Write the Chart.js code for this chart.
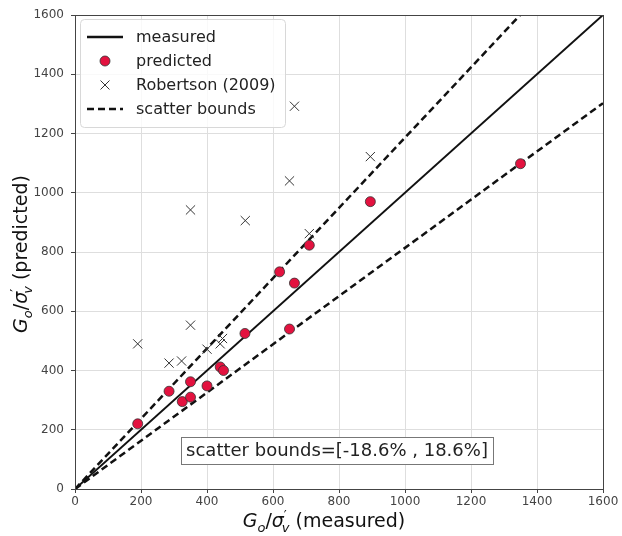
<!DOCTYPE html>
<html>
<head>
<meta charset="utf-8">
<script src="https://cdn.jsdelivr.net/npm/chart.js@4.4.1/dist/chart.umd.min.js"></script>
<style>
  body { margin: 0; background: #fff; }
  canvas { display: block; }
</style>
</head>
<body>
<canvas id="cv" width="622" height="536"></canvas>
<script>
// data
const measuredX  = [190, 285, 325, 350, 350, 400, 440, 450, 515, 620, 650, 665, 710, 895, 1350];
const predictedY = [220, 330, 295, 310, 362, 348, 412, 400, 525, 733, 540, 695, 823, 970, 1098];

const robertsonX = [190, 285, 323, 350, 400, 440, 447, 350, 516, 650, 665, 710, 895];
const robertsonY = [490, 425, 432, 553, 472, 490, 508, 942, 906, 1040, 1292, 862, 1122];

const lineX      = [0, 1600];
const measuredY  = [0, 1600];
const upperY     = [0, 1897.6];   // +18.6%
const lowerY     = [0, 1302.4];   // -18.6%

const tickValues = [0, 200, 400, 600, 800, 1000, 1200, 1400, 1600];
const legendLabels = ['measured', 'predicted', 'Robertson (2009)', 'scatter bounds'];
const boundsText = 'scatter bounds=[-18.6% , 18.6%]';

const FONT = "'DejaVu Sans', sans-serif";
const RED = '#e3123f';

const toPts = (xs, ys) => xs.map((x, i) => ({ x: x, y: ys[i] }));

// frame round the plot area
const framePlugin = {
    id: 'frame',
    afterDatasetsDraw(chart) {
        const a = chart.chartArea, ctx = chart.ctx;
        ctx.save();
        ctx.strokeStyle = '#444';
        ctx.lineWidth = 1;
        ctx.strokeRect(a.left + 0.5, a.top + 0.5, a.right - a.left, a.bottom - a.top);
        ctx.restore();
    }
};

// text box with the bounds
const boundsBoxPlugin = {
    id: 'boundsBox',
    afterDraw(chart) {
        const ctx = chart.ctx;
        ctx.save();
        ctx.font = '18px ' + FONT;
        const w = ctx.measureText(boundsText).width;
        const cx = 337, cy = 450.5;
        const bw = w + 10, bh = 27;
        ctx.fillStyle = '#fff';
        ctx.fillRect(cx - bw / 2, cy - bh / 2, bw, bh);
        ctx.strokeStyle = '#777';
        ctx.lineWidth = 1;
        ctx.strokeRect(Math.round(cx - bw / 2) + 0.5, Math.round(cy - bh / 2) + 0.5, Math.round(bw), bh);
        ctx.fillStyle = '#222';
        ctx.textAlign = 'center';
        ctx.textBaseline = 'middle';
        ctx.fillText(boundsText, cx, cy + 1);
        ctx.restore();
    }
};

// legend in the upper left corner
const legendPlugin = {
    id: 'cornerLegend',
    afterDraw(chart) {
        const ctx = chart.ctx;
        const rows = [37, 61, 85, 109];
        ctx.save();
        ctx.beginPath();
        ctx.roundRect(80.5, 19.5, 205, 108, 4);
        ctx.fillStyle = 'rgba(255,255,255,0.8)';
        ctx.fill();
        ctx.strokeStyle = '#d8d8d8';
        ctx.lineWidth = 1;
        ctx.stroke();

        // measured
        ctx.strokeStyle = '#111';
        ctx.lineWidth = 2.5;
        ctx.beginPath(); ctx.moveTo(87, rows[0]); ctx.lineTo(123, rows[0]); ctx.stroke();
        // predicted
        ctx.beginPath(); ctx.arc(105, rows[1], 5, 0, Math.PI * 2);
        ctx.fillStyle = RED; ctx.fill();
        ctx.lineWidth = 0.8; ctx.strokeStyle = '#333'; ctx.stroke();
        // robertson
        ctx.lineWidth = 1; ctx.strokeStyle = '#333';
        ctx.beginPath();
        ctx.moveTo(100.5, rows[2] - 4.5); ctx.lineTo(109.5, rows[2] + 4.5);
        ctx.moveTo(109.5, rows[2] - 4.5); ctx.lineTo(100.5, rows[2] + 4.5);
        ctx.stroke();
        // bounds
        ctx.lineWidth = 2.5; ctx.strokeStyle = '#111';
        ctx.setLineDash([7, 4]);
        ctx.beginPath(); ctx.moveTo(87, rows[3]); ctx.lineTo(123, rows[3]); ctx.stroke();
        ctx.setLineDash([]);

        ctx.fillStyle = '#222';
        ctx.font = '16px ' + FONT;
        ctx.textBaseline = 'middle';
        legendLabels.forEach((t, i) => ctx.fillText(t, 136, rows[i] + 1));
        ctx.restore();
    }
};

// axis titles, G_o / sigma'_v with sub and superscripts
function drawMathLabel(ctx, word) {
    const parts = [
        { t: 'G', it: true },
        { t: 'o', it: true, sub: true },
        { t: '/', it: false },
        { t: 'σ', it: true },
        { t: '′', it: false, sup: true },
        { t: 'v', it: true, sub: true, back: 5 },
        { t: ' (' + word + ')', it: false }
    ];
    const size = 19;
    const fontOf = p => (p.it ? 'italic ' : '') + ((p.sub || p.sup) ? 13 : size) + 'px ' + FONT;
    let total = 0;
    parts.forEach(p => { ctx.font = fontOf(p); p.w = ctx.measureText(p.t).width; total += p.w - (p.back || 0); });
    let x = -total / 2;
    ctx.textBaseline = 'alphabetic';
    parts.forEach(p => {
        ctx.font = fontOf(p);
        x -= (p.back || 0);
        const dy = p.sub ? 5 : (p.sup ? -8 : 0);
        ctx.fillText(p.t, x, dy);
        x += p.w;
    });
}

const axisTitlePlugin = {
    id: 'axisTitles',
    afterDraw(chart) {
        const ctx = chart.ctx;
        ctx.save();
        ctx.fillStyle = '#111';
        ctx.translate(324, 527);
        drawMathLabel(ctx, 'measured');
        ctx.restore();

        ctx.save();
        ctx.fillStyle = '#111';
        ctx.translate(27, 254);
        ctx.rotate(-Math.PI / 2);
        drawMathLabel(ctx, 'predicted');
        ctx.restore();
    }
};

const axisCommon = {
    type: 'linear',
    min: 0,
    max: 1600,
    afterBuildTicks: s => { s.ticks = tickValues.map(v => ({ value: v })); },
    grid: {
        color: '#dedede',
        lineWidth: 1,
        tickLength: 4,
        tickColor: '#444',
        tickWidth: 1
    },
    border: { color: '#444', width: 1 },
    ticks: {
        color: '#444',
        font: { family: FONT, size: 12 },
        autoSkip: false,
        maxRotation: 0,
        callback: v => String(v)
    }
};

new Chart(document.getElementById('cv'), {
    type: 'scatter',
    data: {
        datasets: [
            {
                label: 'predicted',
                data: toPts(measuredX, predictedY),
                pointStyle: 'circle',
                pointRadius: 5,
                backgroundColor: RED,
                borderColor: '#333',
                borderWidth: 0.8
            },
            {
                label: 'Robertson (2009)',
                data: toPts(robertsonX, robertsonY),
                pointStyle: 'crossRot',
                pointRadius: 6.5,
                borderColor: '#333',
                borderWidth: 1
            },
            {
                label: 'measured',
                data: toPts(lineX, measuredY),
                showLine: true,
                borderColor: '#111',
                borderWidth: 2,
                pointRadius: 0
            },
            {
                label: 'scatter bounds',
                data: toPts(lineX, upperY),
                showLine: true,
                borderColor: '#111',
                borderWidth: 2.5,
                borderDash: [7, 4],
                pointRadius: 0
            },
            {
                label: 'scatter bounds low',
                data: toPts(lineX, lowerY),
                showLine: true,
                borderColor: '#111',
                borderWidth: 2.5,
                borderDash: [7, 4],
                pointRadius: 0
            }
        ]
    },
    options: {
        responsive: false,
        animation: false,
        events: [],
        layout: { padding: { left: 0, top: 15, right: 19, bottom: 0 } },
        plugins: {
            legend: { display: false },
            tooltip: { enabled: false }
        },
        scales: {
            x: Object.assign({}, axisCommon, {
                position: 'bottom',
                ticks: Object.assign({}, axisCommon.ticks, { padding: 2 }),
                afterFit: s => { s.height = 47; }
            }),
            y: Object.assign({}, axisCommon, {
                position: 'left',
                ticks: Object.assign({}, axisCommon.ticks, { padding: 7 }),
                afterFit: s => { s.width = 75; }
            })
        }
    },
    plugins: [framePlugin, boundsBoxPlugin, legendPlugin, axisTitlePlugin]
});
</script>
</body>
</html>
